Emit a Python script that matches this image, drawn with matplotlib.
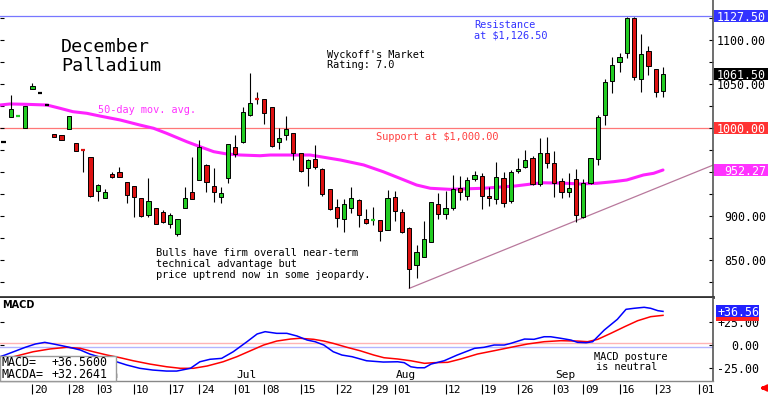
import matplotlib
matplotlib.use('Agg')
import matplotlib.pyplot as plt
import matplotlib.transforms as mtransforms
from matplotlib.patches import Rectangle
import numpy as np

# daily OHLC, one entry per trading day (index 0 = mid May 2019)
opens = [984, 1012.5, 1013.6, 1000.3, 1044, 1039.8, 1026, 993.2, 992, 998.5,
         982.6, 975, 966.7, 928, 920.8, 947.7, 949.7, 938.6, 934.4, 920.8,
         901.1, 909.4, 904.9, 890.9, 879.5, 908.7, 927.6, 940.9, 958, 934,
         921.9, 942.8, 978, 984.4, 1014.8, 1033.4, 1032.6, 1023.5, 984.4, 992,
         994, 971.9, 954.2, 964.4, 953, 930.3, 909.9, 896.2, 908.7, 918.2,
         896.6, 895.2, 895.5, 884.1, 921.9, 904.9, 886.7, 844.3, 853.8, 870.8,
         913.6, 902, 908.7, 931.5, 922.7, 941.7, 945.5, 922.7, 919, 942.8,
         917, 951.5, 956, 965.6, 936.4, 971.9, 960.6, 939.8, 927.6, 941.7,
         898.5, 937.2, 964.8, 1014.8, 1053.4, 1075.3, 1084.9, 1124.7, 1055.7, 1087.8,
         1066.7, 1042.4]
highs = [984, 1037.5, 1014.4, 1025, 1051, 1039.8, 1026, 993.2, 992, 1014,
         983.5, 975, 966.7, 936.4, 930.3, 950, 956, 938.6, 934.4, 920.8,
         942.8, 909.4, 906.8, 903, 896.2, 932.6, 967.4, 986.4, 959, 954.2,
         933.3, 981.5, 992, 1023.5, 1062.8, 1041.3, 1032.6, 1023.5, 999.7, 1013.6,
         994, 971.9, 964.4, 980.7, 955, 930.3, 919, 919, 933.3, 919,
         907.6, 910.6, 895.5, 929.5, 928.4, 907.6, 887, 867, 894.7, 915.6,
         926.5, 928.4, 946.6, 945.8, 944.7, 951.5, 948.5, 932.6, 961.7, 950.3,
         952.3, 965.6, 975, 968, 989, 990.1, 974.2, 942.8, 949.2, 953,
         941.7, 966.3, 1014.8, 1055.3, 1081, 1085.6, 1126.5, 1126.5, 1106.8, 1093.2,
         1067, 1069]
lows = [984, 1012.5, 1013.6, 1000, 1044, 1039.8, 1026, 990, 986.4, 998.5,
        974.2, 950.3, 922, 917, 920.8, 943, 944.7, 914.4, 899.2, 899,
        899.2, 890.9, 891.7, 886, 877.3, 908.7, 919, 940.9, 927.6, 916.3,
        915, 937.8, 967.4, 982.6, 1013.6, 1027.3, 1004.2, 978, 975.8, 986.4,
        963.6, 950.3, 934.1, 953, 923, 906.8, 887.8, 882.2, 903, 887.2,
        890.6, 889.8, 871.9, 884, 894.3, 881, 817.8, 829.2, 853.8, 870,
        896.6, 896.6, 906.8, 918.2, 918.2, 940, 907.6, 911.4, 913.3, 910.6,
        915, 948.5, 954.2, 935, 934, 954.2, 922, 920.8, 921.2, 893.5,
        898, 936.4, 958, 1003.4, 1039.4, 1064, 1079.9, 1054.5, 1041.3, 1060.2,
        1035.6, 1034.9]
closes = [984, 1021.6, 1014.4, 1025, 1047.7, 1039.8, 1026, 990, 986.4, 1014,
          974.2, 974.2, 922.7, 935.2, 927.6, 944.7, 944.7, 923.9, 921.2, 900.3,
          917, 890.9, 892.8, 900.8, 896.2, 920.8, 919.3, 978, 938.3, 927,
          926.5, 981.5, 970.5, 1018.5, 1028, 1032.6, 1017.4, 979.9, 989, 998.9,
          971.3, 951.1, 963.6, 956, 924.7, 907.6, 897.4, 913.6, 920, 901.1,
          892.4, 895.8, 883.3, 920.1, 905.7, 882.2, 839.4, 859.4, 873.5, 915.6,
          902.3, 908.7, 930.7, 927.6, 940.9, 946.6, 922.7, 920.1, 944, 914.4,
          950.3, 953.4, 963.6, 936.4, 971.9, 960.6, 937.8, 927.6, 931.5, 901.1,
          937.2, 966.3, 1012.8, 1052.6, 1071.6, 1081, 1124.7, 1058.3, 1083.8, 1070.5,
          1041.3, 1061.5]

# 50-day moving average
ma_pos = [-0.5, 0.9, 3.2, 6.0, 7.8, 9.6, 11.5, 13.3, 16.1, 18.8, 20.7, 22.5, 25.3,
          27.1, 29.0, 30.8, 32.7, 35.4, 36.8, 42.3, 43.7, 46.5, 49.7, 52.4, 54.7,
          57.0, 58.9, 61.6, 66.2, 70.6, 74.3, 77.5, 79.6, 81.9, 84.2, 86.0, 88.3,
          89.7, 91.0]
ma_vals = [1026.1, 1027.3, 1026.9, 1026.1, 1022.4, 1018.5, 1016.7, 1013.6, 1009.1,
           1003.4, 999.7, 994.0, 984.4, 978.8, 973.1, 970.5, 969.3, 968.5, 969.3,
           969.3, 967.4, 963.6, 958.0, 950.3, 942.8, 935.2, 931.5, 930.3, 931.5,
           934.1, 937.8, 937.2, 936.4, 937.2, 939.0, 940.9, 946.6, 948.5, 952.27]

# MACD (blue) and MACDA signal (red)
macd_pos = [-0.5, 0.2, 1.4, 3.0, 4.4, 5.7, 6.9, 8.7, 10.6, 11.9, 13.7, 15.6, 17.0,
            18.8, 20.6, 22.5, 23.9, 25.8, 27.1, 28.5, 30.1, 31.7, 33.6, 35.0, 36.1,
            37.7, 39.1, 40.5, 41.9, 43.0, 44.2, 45.5, 46.7, 48.1, 50.1, 52.4, 54.4,
            55.3, 56.2, 57.1, 58.1, 59.0, 60.8, 62.6, 65.0, 66.3, 67.7, 69.1, 70.0,
            71.9, 73.2, 74.6, 75.5, 76.9, 78.3, 79.2, 80.4, 81.3, 82.9, 84.7, 85.9,
            87.0, 88.4, 89.3, 90.3, 91.0]
macd_vals = [-12.7, -10.9, -7.3, -2.5, 1.1, 2.9, 1.1, -1.8, -5.4, -9.8, -14.1, -18.2,
             -21.7, -25.3, -27.2, -28.3, -28.3, -25.3, -18.2, -15.5, -14.5, -7.3, 3.6,
             12.0, 14.5, 12.7, 12.7, 9.8, 5.4, 3.6, 0.0, -7.3, -10.9, -12.7, -17.1,
             -18.5, -18.2, -19.2, -23.6, -24.7, -24.7, -20.7, -17.1, -10.9, -3.6, -2.5,
             0.0, 0.0, 1.8, 6.5, 6.2, 9.0, 9.0, 7.3, 5.4, 2.9, 2.5, 3.6, 16.3, 27.9,
             38.8, 39.9, 41.0, 39.9, 37.3, 36.56]
sig_pos = [-0.5, 1.4, 4.1, 6.4, 8.7, 10.6, 12.4, 14.3, 16.1, 17.9, 20.2, 22.5, 24.4,
           26.2, 28.1, 30.3, 32.2, 34.0, 35.9, 37.7, 39.6, 40.9, 42.8, 44.2, 45.5,
           47.4, 49.2, 51.1, 52.5, 54.4, 56.2, 58.1, 59.4, 61.3, 63.1, 65.4, 67.7,
           70.0, 72.3, 74.6, 76.9, 79.2, 80.6, 82.0, 83.8, 85.7, 87.5, 89.3, 91.0]
sig_vals = [-16.3, -12.7, -7.3, -4.3, -2.5, -3.6, -7.3, -10.9, -13.8, -17.1, -20.7,
            -23.6, -25.3, -25.3, -22.8, -18.2, -12.7, -6.5, 0.0, 4.3, 6.5, 7.3, 6.2,
            4.3, 1.8, -2.5, -6.2, -10.9, -13.8, -15.2, -17.1, -19.9, -19.2, -18.8,
            -15.2, -9.8, -6.2, -2.5, 1.1, 3.6, 4.7, 4.3, 3.6, 6.2, 12.7, 19.9, 26.4,
            30.8, 32.26]

tick_pos = [4, 9, 13, 18, 23, 27, 32, 36, 41, 46, 51, 54, 61, 66, 71, 76, 80, 85, 90, 96]
tick_labels = ['20', '28', '03', '10', '17', '24', '01', '08', '15', '22', '29',
               '01', '12', '19', '26', '03', '09', '16', '23', '01']
month_names = ['Jun', 'Jul', 'Aug', 'Sep']
month_pos = [13, 32, 54, 76]

resistance = 1127.50
support = 1000.00
last_close = 1061.50
ma_last = 952.27
macd_last = 36.5600
macda_last = 32.2641
# trendline anchored on the Aug 2 low and the early-Sep low
trend_idx = [56, 80]
trend_px = [817.8, 898.0]

# plain labels on the right (950 and 1000 sit under the coloured boxes)
price_ticks = [850, 900, 1050, 1100]
macd_ticks = [-25, 0, 25]

GREEN = '#22cc22'
RED = '#dd1111'
MAG = '#ff22ff'

plt.rcParams['font.family'] = 'DejaVu Sans Mono'

W, H = 768, 396
fig = plt.figure(figsize=(W / 100, H / 100), dpi=100)


def fx(px):
    return px / W


def fy(py):
    return 1 - py / H


XL = (-0.48, 97.9)
ax = fig.add_axes([0, fy(297), fx(713), fy(0) - fy(297)])
ax2 = fig.add_axes([0, fy(381), fx(713), fy(298) - fy(381)])
ax.set_xlim(*XL)
ax.set_ylim(807.95, 1145.45)
ax2.set_xlim(*XL)
ax2.set_ylim(-39.1, 51.1)

for a in (ax, ax2):
    a.spines['top'].set_visible(False)
    a.spines['left'].set_visible(False)
    a.spines['right'].set_color('#555555')
    a.spines['right'].set_linewidth(1.2)
    a.set_xticks([])
    a.tick_params(axis='y', left=True, right=True, direction='in', length=3,
                  width=0.8, labelleft=False, labelright=False)
ax.spines['bottom'].set_color('#333333')
ax.spines['bottom'].set_linewidth(2)
ax2.spines['bottom'].set_color('#888888')
ax2.spines['bottom'].set_linewidth(1)
ax.set_yticks(np.arange(825, 1145, 25))
ax2.set_yticks(macd_ticks)

# candles
for i, (o, h, l, c) in enumerate(zip(opens, highs, lows, closes)):
    ax.vlines(i, l, h, color='black', lw=0.8, zorder=3)
    col = GREEN if c > o else (RED if c < o else 'black')
    if abs(c - o) < 1.7:
        ax.hlines((o + c) / 2, i - 0.3, i + 0.3, color=col, lw=1.6, zorder=4)
    else:
        ax.bar(i, abs(c - o), bottom=min(o, c), width=0.58, color=col,
               edgecolor='black', linewidth=0.7, zorder=4)

ax.plot(ma_pos, ma_vals, color=MAG, lw=2.2, zorder=2, solid_capstyle='round')
ax.axhline(support, color='#ff7777', lw=0.9, zorder=1)
ax.axhline(resistance, color='#7777ff', lw=0.9, zorder=1)
slope = (trend_px[1] - trend_px[0]) / (trend_idx[1] - trend_idx[0])
ax.plot([trend_idx[0], XL[1]], [trend_px[0], trend_px[0] + slope * (XL[1] - trend_idx[0])],
        color='#b8789c', lw=0.9, zorder=2)

# right-hand price labels
btr = mtransforms.blended_transform_factory(ax.transAxes, ax.transData)
for v in price_ticks:
    ax.text(766 / 713, v, '%.2f' % v, transform=btr, ha='right', va='center_baseline',
            fontsize=8.4)
for v, col in [(resistance, '#3333ff'), (last_close, 'black'),
               (support, '#ff3333'), (ma_last, '#ff33ff')]:
    ax.add_patch(Rectangle((714 / 713, v - 6 / 0.88), 54 / 713, 12 / 0.88, transform=btr,
                           fc=col, ec='none', clip_on=False, zorder=6))
    ax.text(766 / 713, v, '%.2f' % v, transform=btr, ha='right', va='center_baseline',
            fontsize=8.4, color='white', zorder=7)

# MACD panel
ax2.axhline(1.85, color='#ffb4b4', lw=1)
ax2.axhline(-2.5, color='#b4b4ff', lw=1)
ax2.plot(sig_pos, sig_vals, color='#ff0000', lw=1.1, zorder=3)
ax2.plot(macd_pos, macd_vals, color='#0000ff', lw=1.1, zorder=4)

btr2 = mtransforms.blended_transform_factory(ax2.transAxes, ax2.transData)
for v, lab in zip(macd_ticks, ['-25.00', '0.00', '+25.00']):
    ax2.text(759 / 713, v, lab, transform=btr2, ha='right', va='center_baseline', fontsize=8.4)
# MACDA marker box sits behind the MACD one, only its lower edge shows
ax2.add_patch(Rectangle((715.5 / 713, macda_last - 6 / 0.92), 44 / 713, 12 / 0.92,
                        transform=btr2, fc='#ff2222', ec='none', clip_on=False, zorder=6))
ax2.add_patch(Rectangle((715.5 / 713, macd_last - 6 / 0.92), 44 / 713, 12 / 0.92,
                        transform=btr2, fc='#2222ff', ec='none', clip_on=False, zorder=6))
ax2.text(759 / 713, macd_last, '%+.2f' % macd_last, transform=btr2, ha='right',
         va='center_baseline', fontsize=8.4, color='white', zorder=7)

# date axis
dtr = mtransforms.blended_transform_factory(ax2.transData, fig.transFigure)
ax2.vlines(tick_pos, fy(384), fy(394), transform=dtr, color='black', lw=0.8, clip_on=False)
lab_tr = mtransforms.offset_copy(dtr, fig=fig, x=2, y=0, units='dots')
for p, lab in zip(tick_pos, tick_labels):
    ax2.text(p, fy(393), lab, transform=lab_tr, ha='left', va='baseline', fontsize=8)
mon_tr = mtransforms.offset_copy(dtr, fig=fig, x=1, y=0, units='dots')
for p, name in zip(month_pos, month_names):
    ax2.text(p, fy(378.5), name, transform=mon_tr, ha='left', va='baseline', fontsize=8)

ax2.annotate('', xy=(757, 8), xytext=(767, 8), xycoords='figure pixels',
             textcoords='figure pixels', annotation_clip=False,
             arrowprops=dict(arrowstyle='-|>', color='red', lw=2.2, mutation_scale=8))

# MACD readout box
fig.add_artist(Rectangle((0, fy(381)), fx(116), fy(356) - fy(381), transform=fig.transFigure,
                         fc='white', ec='#999999', lw=1, zorder=5))
fig.text(fx(1), fy(366), 'MACD=', fontsize=8.4, va='baseline', zorder=6)
fig.text(fx(51.7), fy(366), '%+.4f' % macd_last, fontsize=8.4, va='baseline', zorder=6)
fig.text(fx(1), fy(378), 'MACDA=', fontsize=8.4, va='baseline', zorder=6)
fig.text(fx(51.7), fy(378), '%+.4f' % macda_last, fontsize=8.4, va='baseline', zorder=6)
fig.text(fx(2), fy(308.3), 'MACD', family='DejaVu Sans', fontweight='bold', fontsize=7,
         va='baseline')
fig.text(fx(594), fy(359.5), 'MACD posture', fontsize=7.4, va='baseline')
fig.text(fx(595.5), fy(370.5), 'is neutral', fontsize=7.4, va='baseline')

# annotations on the price panel
fig.text(fx(61), fy(52), 'December', fontsize=13.2, va='baseline')
fig.text(fx(61), fy(70.7), 'Palladium', fontsize=13.2, va='baseline')
fig.text(fx(327), fy(57.5), "Wyckoff's Market", fontsize=7.4, va='baseline')
fig.text(fx(327), fy(68.5), 'Rating: 7.0', fontsize=7.4, va='baseline')
fig.text(fx(474), fy(28), 'Resistance', fontsize=7.4, va='baseline', color='#3333ff')
fig.text(fx(474), fy(38.3), r'at \$1,126.50', fontsize=7.4, va='baseline', color='#3333ff')
fig.text(fx(376), fy(140.5), r'Support at \$1,000.00', fontsize=7.4, va='baseline',
         color='#ff4040')
fig.text(fx(98), fy(113), '50-day mov. avg.', fontsize=7.4, va='baseline', color='#ff33ff')
for k, line in enumerate(['Bulls have firm overall near-term',
                          'technical advantage but',
                          'price uptrend now in some jeopardy.']):
    fig.text(fx(155.7), fy(256.5 + 10.5 * k), line, fontsize=7.4, va='baseline')

fig.savefig('out.png', dpi=100)
